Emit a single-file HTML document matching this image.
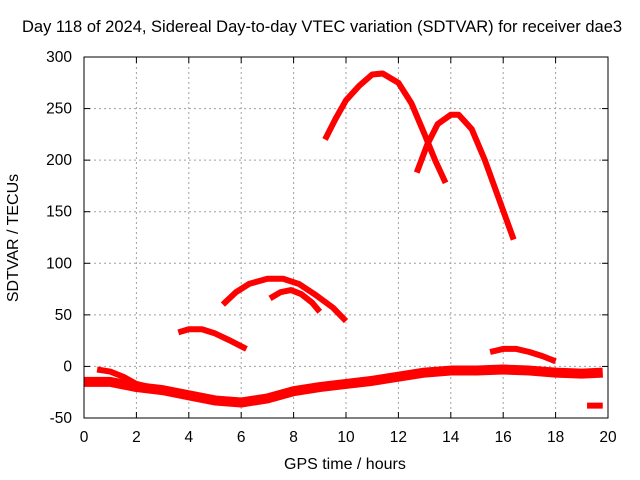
<!DOCTYPE html>
<html><head><meta charset="utf-8"><style>
body{margin:0;background:#fff}
svg{display:block;font-family:"Liberation Sans",sans-serif}
</style></head><body>
<svg id="chart" width="640" height="480"></svg>
<script>
const xTicks=[0,2,4,6,8,10,12,14,16,18,20];
const yTicks=[-50,0,50,100,150,200,250,300];
const arcAx=[9.2,9.6,10,10.5,11,11.4,12,12.5,13,13.4,13.8];
const arcAy=[220,240,258,272,283,284,275,255,225,200,178];
const arcBx=[12.7,13.1,13.5,14,14.3,14.8,15.3,15.8,16.4];
const arcBy=[188,215,235,244,244,230,200,165,123];
const arcCx=[3.6,4,4.5,5,5.5,6.2];
const arcCy=[33,36,36,32,26,17];
const arcDx=[5.3,5.8,6.3,7,7.6,8.2,8.8,9.5,10];
const arcDy=[60,72,80,85,85,80,70,57,44];
const arcEx=[7.1,7.5,7.9,8.3,8.7,9.0];
const arcEy=[66,72,74,70,62,53];
const arcFx=[15.5,16,16.5,17,17.5,18];
const arcFy=[14,17,17,14,10,5];
const bandx=[0,1,2,3,4,5,6,7,8,9,10,11,12,13,14,15,16,17,18,19,19.8];
const bandy=[-15,-15,-20,-23,-28,-33,-35,-31,-24,-20,-17,-14,-10,-6,-4,-4,-3,-4,-6,-7,-6];
const strandx=[0.5,1,1.5,2,2.5];
const strandy=[-3,-5,-10,-17,-20];
const tailx=[19.2,19.8];
const taily=[-38,-38];

const L=84,R=608,T=57,B=418;
const X=v=>L+(v-0)/(20-0)*(R-L);
const Y=v=>B-(v+50)/350*(B-T);
const svg=document.getElementById('chart');
const NS='http://www.w3.org/2000/svg';
function mk(tag,attrs,parent){const e=document.createElementNS(NS,tag);for(const k in attrs)e.setAttribute(k,attrs[k]);(parent||svg).appendChild(e);return e;}

const grid=mk('g',{});


xTicks.forEach(t=>{if(t>0&&t<20){const l=mk('line',{x1:X(t),x2:X(t),y1:T,y2:B,stroke:'#a0a0a0','stroke-dasharray':'2,3','stroke-width':1},grid);}});
yTicks.forEach(t=>{if(t>-50&&t<300){const l=mk('line',{x1:L,x2:R,y1:Y(t),y2:Y(t),stroke:'#a0a0a0','stroke-dasharray':'2,3','stroke-width':1},grid);}});

const series=[[arcAx,arcAy,6],[arcBx,arcBy,6],[arcCx,arcCy,6],[arcDx,arcDy,6],[arcEx,arcEy,6],[arcFx,arcFy,6],[bandx,bandy,10],[strandx,strandy,6],[tailx,taily,6]];
series.forEach(([xs,ys,w])=>{
  const p=mk('polyline',{points:xs.map((x,i)=>X(x)+','+Y(ys[i])).join(' '),fill:'none',stroke:'#ff0000','stroke-width':w,'stroke-linejoin':'round'});
  
  
});

const frame=mk('rect',{x:L,y:T,width:R-L,height:B-T,fill:'none',stroke:'#000','stroke-width':1});



xTicks.forEach(t=>{
  mk('line',{x1:X(t),x2:X(t),y1:B,y2:B-6,stroke:'#000'});
  mk('line',{x1:X(t),x2:X(t),y1:T,y2:T+6,stroke:'#000'});
  const tx=mk('text',{x:X(t),y:B+24,'text-anchor':'middle','font-size':15.5});
  tx.textContent=t;
  
  
});
yTicks.forEach(t=>{
  mk('line',{x1:L,x2:L+6,y1:Y(t),y2:Y(t),stroke:'#000'});
  mk('line',{x1:R,x2:R-6,y1:Y(t),y2:Y(t),stroke:'#000'});
  const tx=mk('text',{x:L-12,y:Y(t)+5,'text-anchor':'end','font-size':15.5});
  tx.textContent=t;
  
  
});
</script>
<div style="position:absolute;left:0;top:0;width:640px;height:480px;pointer-events:none;font-family:'Liberation Sans',sans-serif;font-size:16px">
  <div style="position:absolute;left:22px;top:18px;white-space:nowrap;font-size:16.5px">Day 118 of 2024, Sidereal Day-to-day VTEC variation (SDTVAR) for receiver dae3</div>
  <div style="position:absolute;left:284px;top:456px;white-space:nowrap">GPS time / hours</div>
  <div style="position:absolute;left:14px;top:238px;white-space:nowrap;transform:translate(-50%,-50%) rotate(-90deg);transform-origin:center">SDTVAR / TECUs</div>
</div>
</body></html>
